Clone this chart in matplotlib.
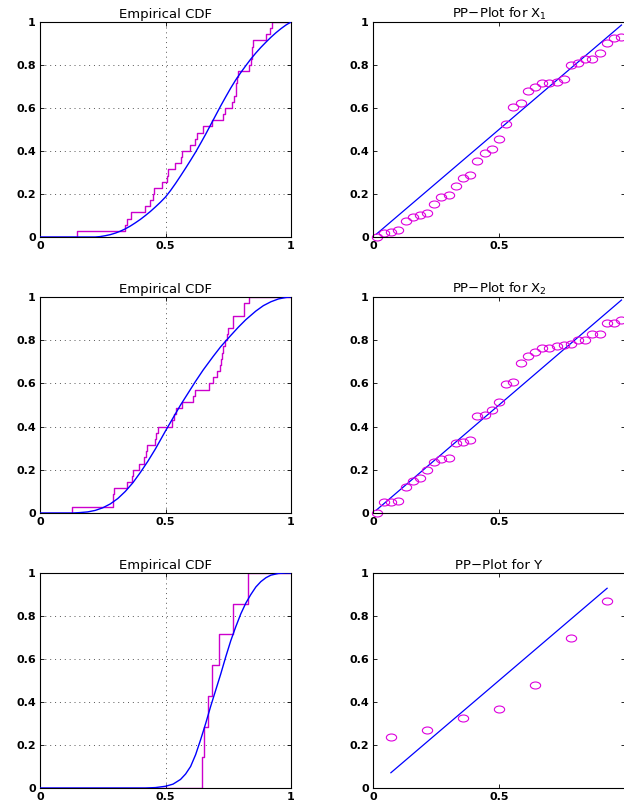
import numpy as np
import matplotlib
matplotlib.use("Agg")
import matplotlib.pyplot as plt
from matplotlib.path import Path

plt.rcParams["font.family"] = ["DejaVu Sans"]
plt.rcParams["mathtext.fontset"] = "dejavusans"

# sorted samples (x positions of the ECDF jumps)
x1_sorted = [0.146, 0.339, 0.345, 0.363, 0.418, 0.438, 0.449, 0.455, 0.485, 0.505,
             0.511, 0.538, 0.560, 0.564, 0.598, 0.618, 0.627, 0.648, 0.684, 0.728,
             0.737, 0.764, 0.773, 0.781, 0.782, 0.784, 0.787, 0.834, 0.840, 0.843,
             0.845, 0.850, 0.900, 0.916, 0.923]
x2_sorted = [0.126, 0.290, 0.292, 0.295, 0.345, 0.365, 0.371, 0.396, 0.414, 0.423,
             0.425, 0.460, 0.462, 0.471, 0.527, 0.534, 0.542, 0.564, 0.611, 0.617,
             0.675, 0.691, 0.704, 0.717, 0.723, 0.727, 0.730, 0.737, 0.744, 0.750,
             0.768, 0.770, 0.811, 0.813, 0.834]
y_sorted = [0.644, 0.653, 0.671, 0.684, 0.713, 0.770, 0.827]

# fitted CDF curves
f1_x = [0, 0.22, 0.24, 0.26, 0.28, 0.30, 0.32, 0.34, 0.36, 0.38, 0.40, 0.42, 0.44,
        0.46, 0.48, 0.50, 0.52, 0.54, 0.56, 0.58, 0.60, 0.62, 0.64, 0.66, 0.68,
        0.70, 0.72, 0.74, 0.76, 0.78, 0.80, 0.82, 0.84, 0.86, 0.88, 0.90, 0.92,
        0.94, 0.96, 0.98, 1.0]
f1_y = [0, 0, 0.002, 0.006, 0.011, 0.018, 0.027, 0.038, 0.051, 0.066, 0.082,
        0.100, 0.119, 0.140, 0.162, 0.186, 0.216, 0.249, 0.284, 0.320, 0.357,
        0.395, 0.436, 0.478, 0.522, 0.566, 0.610, 0.652, 0.693, 0.731, 0.765,
        0.797, 0.828, 0.856, 0.882, 0.906, 0.929, 0.950, 0.969, 0.986, 1.0]
f2_x = [0, 0.13, 0.16, 0.19, 0.22, 0.25, 0.28, 0.31, 0.34, 0.37, 0.40, 0.43,
        0.46, 0.50, 0.53, 0.56, 0.59, 0.62, 0.65, 0.69, 0.72, 0.76, 0.79, 0.82,
        0.86, 0.89, 0.92, 0.95, 0.98, 1.0]
f2_y = [0, 0, 0.002, 0.005, 0.012, 0.024, 0.042, 0.067, 0.100, 0.140, 0.188,
        0.240, 0.297, 0.380, 0.440, 0.500, 0.555, 0.610, 0.662, 0.725, 0.770,
        0.822, 0.860, 0.895, 0.935, 0.960, 0.978, 0.991, 0.998, 1.0]
fy_x = [0, 0.42, 0.46, 0.50, 0.53, 0.56, 0.58, 0.60, 0.62, 0.64, 0.66, 0.68,
        0.70, 0.72, 0.74, 0.76, 0.78, 0.80, 0.82, 0.84, 0.86, 0.88, 0.90, 0.92,
        0.95, 0.98, 1.0]
fy_y = [0, 0, 0.002, 0.008, 0.018, 0.040, 0.065, 0.100, 0.155, 0.225, 0.300,
        0.380, 0.455, 0.530, 0.610, 0.685, 0.750, 0.810, 0.860, 0.900, 0.935,
        0.960, 0.978, 0.990, 0.998, 1.0, 1.0]

# PP-plot points
pp35_x = [0.014, 0.043, 0.071, 0.100, 0.129, 0.157, 0.186, 0.214, 0.243, 0.271,
          0.300, 0.329, 0.357, 0.386, 0.414, 0.443, 0.471, 0.500, 0.529, 0.557,
          0.586, 0.614, 0.643, 0.671, 0.700, 0.729, 0.757, 0.786, 0.814, 0.843,
          0.871, 0.900, 0.929, 0.957, 0.986]
pp1_y = [0.0, 0.019, 0.023, 0.031, 0.073, 0.091, 0.104, 0.111, 0.152, 0.184,
         0.197, 0.238, 0.274, 0.288, 0.353, 0.390, 0.410, 0.455, 0.526, 0.604,
         0.622, 0.681, 0.697, 0.718, 0.718, 0.723, 0.735, 0.799, 0.811, 0.828,
         0.828, 0.854, 0.904, 0.926, 0.932]
pp2_y = [0.0, 0.051, 0.053, 0.057, 0.119, 0.147, 0.161, 0.197, 0.235, 0.252,
         0.255, 0.325, 0.331, 0.339, 0.449, 0.455, 0.475, 0.516, 0.596, 0.608,
         0.695, 0.726, 0.746, 0.762, 0.763, 0.773, 0.777, 0.783, 0.799, 0.803,
         0.830, 0.830, 0.878, 0.879, 0.895]
pp7_x = [0.071, 0.214, 0.357, 0.500, 0.643, 0.786, 0.929]
ppy_y = [0.235, 0.268, 0.324, 0.368, 0.477, 0.697, 0.868]

pp_titles = ["PP\u2212Plot for X$_1$", "PP\u2212Plot for X$_2$", "PP\u2212Plot for Y"]

MAG = "#cc00cc"
W, H = 624, 806

circ = Path.unit_circle()
ellipse = Path(circ.vertices * np.array([1.0, 0.68]), circ.codes)


def style_axes(ax, last_x_label="1"):
    ax.set_xlim(0, 1)
    ax.set_ylim(0, 1)
    ax.set_xticks([0, 0.5, 1])
    ax.set_xticklabels(["0", "0.5", last_x_label])
    ax.set_yticks([0, 0.2, 0.4, 0.6, 0.8, 1])
    ax.set_yticklabels(["0", "0.2", "0.4", "0.6", "0.8", "1"])
    ax.tick_params(direction="in", top=True, right=True, length=3, width=0.6,
                   labelsize=8, pad=3)
    for lab in ax.get_xticklabels() + ax.get_yticklabels():
        lab.set_fontweight("bold")
    for s in ax.spines.values():
        s.set_linewidth(0.8)


fig = plt.figure(figsize=(W / 100, H / 100), dpi=100)
rows = [(22, 237), (297, 513), (573, 788)]
ecdf_data = [(x1_sorted, f1_x, f1_y), (x2_sorted, f2_x, f2_y), (y_sorted, fy_x, fy_y)]
pp_data = [(pp35_x, pp1_y), (pp35_x, pp2_y), (pp7_x, ppy_y)]

for r, (top, bot) in enumerate(rows):
    b = (H - bot) / H
    h = (bot - top) / H

    # empirical CDF with fitted CDF
    ax = fig.add_axes([40 / W, b, 251 / W, h])
    xs, fx, fy = ecdf_data[r]
    n = len(xs)
    sx = [0] + list(xs) + [1]
    sy = [0] + [(k + 1) / n for k in range(n)] + [1]
    ax.step(sx, sy, where="post", color=MAG, lw=1.0, zorder=2)
    ax.plot(fx, fy, color="#0000ff", lw=1.0, zorder=3)
    for g in [0.2, 0.4, 0.6, 0.8]:
        ax.axhline(g, color="#555555", lw=0.7, ls=(0, (1, 4)), zorder=1)
    ax.axvline(0.5, color="#555555", lw=0.7, ls=(0, (1, 4)), zorder=1)
    style_axes(ax)
    ax.set_title("Empirical CDF", fontsize=9.5, pad=3)

    # PP-plot
    ax2 = fig.add_axes([373 / W, b, 252 / W, h])
    px, py = pp_data[r]
    ax2.plot([px[0], px[-1]], [px[0], px[-1]], color="#0000ff", lw=0.9)
    ax2.plot(px, py, ls="none", marker=ellipse, ms=7.4, mfc="none",
             mec="#dd00dd", mew=0.8, clip_on=False)
    style_axes(ax2, last_x_label="")
    ax2.set_title(pp_titles[r], fontsize=9.5, pad=3)

fig.savefig("out.png", dpi=100)
